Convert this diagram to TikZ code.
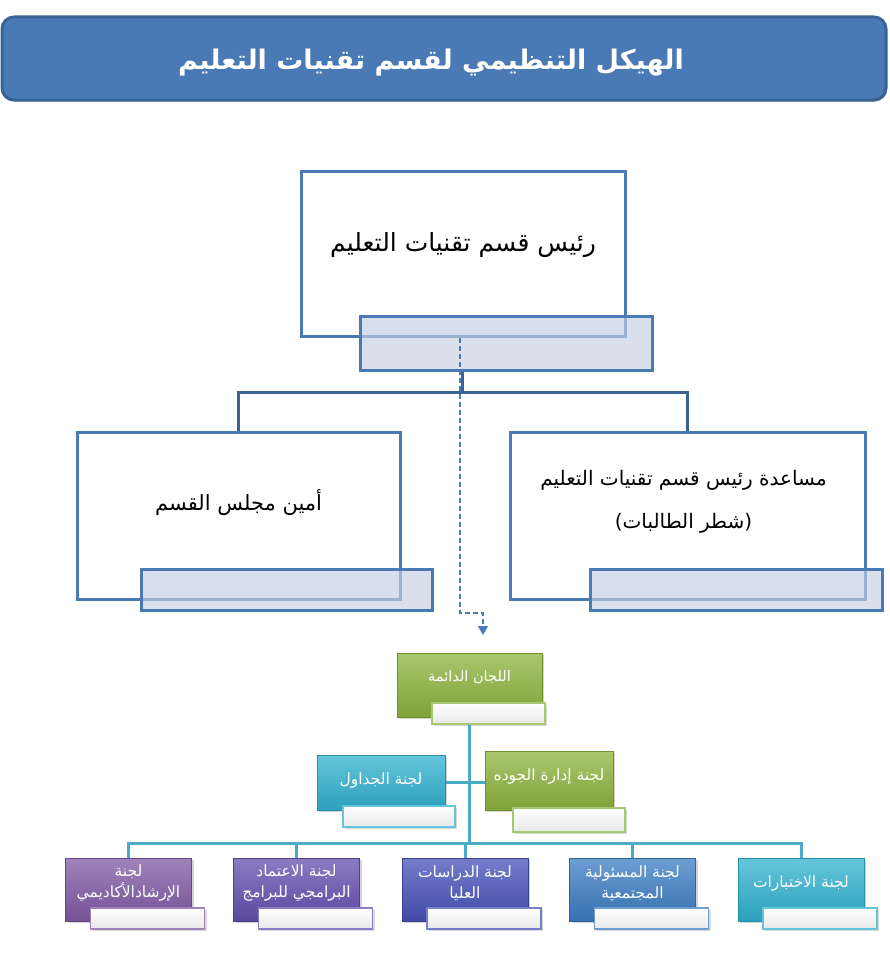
\documentclass[tikz,border=0pt]{standalone}
\usepackage{fontspec}
\usepackage{tikz}
\usetikzlibrary{positioning,shadows,backgrounds,arrows.meta}
\newfontfamily\arabicfont[Script=Arabic]{DejaVu Sans}
\TeXXeTstate=1
\definecolor{deptBlue}{RGB}{74,122,182}
\definecolor{deptBlueDark}{RGB}{58,98,148}
\definecolor{tagGrey}{RGB}{196,207,226}
\definecolor{linkTeal}{RGB}{75,172,198}
\definecolor{commGreen}{RGB}{141,180,62}
\definecolor{commCyan}{RGB}{49,178,208}
\definecolor{commPurple}{RGB}{128,90,165}
\definecolor{commViolet}{RGB}{100,80,175}
\definecolor{commIndigo}{RGB}{72,82,185}
\definecolor{commBlue}{RGB}{60,125,195}
\tikzset{
	titlebox/.style={draw=deptBlueDark, line width=3pt, fill=deptBlue, rounded corners=12pt,
		drop shadow={shadow xshift=1pt, shadow yshift=-2pt, opacity=0.3}},
	titletext/.style={text=white, font=\arabicfont\bfseries\fontsize{27}{32}\selectfont},
	posbox/.style={draw=deptBlue, line width=3pt, fill=white},
	postext/.style={text=black, align=center, font=\arabicfont\fontsize{21}{43}\selectfont},
	postag/.style={draw=deptBlue, line width=3pt, fill=tagGrey, fill opacity=0.65},
	postlink/.style={draw=deptBlueDark, line width=3pt},
	assistlink/.style={draw=deptBlue, line width=1.2pt, dash pattern=on 5pt off 3pt,
		-{Triangle[width=10pt,length=9pt]}},
	commbox/.style={draw=#1!80!black, line width=0.6pt, top color=#1!75!white, bottom color=#1!90!black,
		drop shadow={shadow xshift=2pt, shadow yshift=-2pt, opacity=0.35}},
	rowbox/.style={commbox=#1, minimum width=126, minimum height=63},
	commtext/.style={text=white, align=center, font=\arabicfont\fontsize{15.5}{21}\selectfont},
	commtag/.style={draw=#1!75!white, line width=1.2pt, top color=white, bottom color=black!9,
		drop shadow={shadow xshift=2pt, shadow yshift=-2pt, opacity=0.3}},
	rowtag/.style={commtag=#1, minimum width=114, minimum height=21},
	commlink/.style={draw=linkTeal, line width=3pt}
}

\begin{document}
\begin{tikzpicture}[x=1pt, y=-1pt]
	\useasboundingbox (0,0) rectangle (889,974);

	% title banner
	\node[titlebox, minimum width=884, minimum height=83,
		label={[titletext, xshift=-13pt, yshift=-4pt]center:{\beginR الهيكل التنظيمي لقسم تقنيات التعليم\endR}}] (title) at (444,58.5) {};

	% department posts
	\node[posbox, minimum width=324, minimum height=165,
		label={[postext, font=\arabicfont\fontsize{25}{30}\selectfont, yshift=8pt]center:{\beginR رئيس قسم تقنيات التعليم\endR}}] (chief) at (463,253.5) {};
	\node[postag, minimum width=292, minimum height=54] (chieftag) at (506,343) {};

	\node[posbox, minimum width=323, minimum height=167,
		label={[postext, yshift=13pt]center:{\beginR أمين مجلس القسم\endR}}] (secretary) at (238.5,515.5) {};
	\node[postag, minimum width=291, minimum height=41] (secretarytag) at (286.5,589.5) {};

	\node[posbox, minimum width=355, minimum height=167,
		label={[postext, font=\arabicfont\fontsize{20}{43}\selectfont, xshift=-4pt, yshift=14pt]center:{\beginR مساعدة رئيس قسم تقنيات التعليم\endR\\\beginR (شطر الطالبات)\endR}}] (deputy) at (687.5,515.5) {};
	\node[postag, minimum width=292, minimum height=41] (deputytag) at (736,589.5) {};

	% standing committees
	\node[commbox=commGreen, minimum width=145, minimum height=64,
		label={[commtext, font=\arabicfont\fontsize{14.5}{20}\selectfont, yshift=8pt]center:{\beginR اللجان الدائمة\endR}}] (standing) at (469.5,685) {};
	\node[commtag=commGreen, minimum width=113, minimum height=21] (standingtag) at (488.5,713.5) {};

	\node[commbox=commCyan, minimum width=128, minimum height=55,
		label={[commtext, yshift=2pt]center:{\beginR لجنة الجداول\endR}}] (timetable) at (381,782.5) {};
	\node[commtag=commCyan, minimum width=112, minimum height=21] (timetabletag) at (399,816.5) {};

	\node[commbox=commGreen, minimum width=128, minimum height=59,
		label={[commtext, yshift=4pt]center:{\beginR لجنة  إدارة الجوده\endR}}] (quality) at (549,780.5) {};
	\node[commtag=commGreen, minimum width=112, minimum height=24] (qualitytag) at (569,820) {};

	\node[rowbox=commPurple, label={[commtext, yshift=6.5pt]center:{\beginR لجنة\endR\\\beginR الإرشادالأكاديمي\endR}}] (advising) at (128.5,889.5) {};
	\node[rowtag=commPurple] (advisingtag) at ([xshift=19pt, yshift=-29pt]advising.center) {};

	\node[rowbox=commViolet, label={[commtext, yshift=6.5pt]center:{\beginR لجنة الاعتماد\endR\\\beginR البرامجي للبرامج\endR}}] (accredit) at (296.5,889.5) {};
	\node[rowtag=commViolet] (accredittag) at ([xshift=19pt, yshift=-29pt]accredit.center) {};

	\node[rowbox=commIndigo, label={[commtext, yshift=6.5pt]center:{\beginR لجنة الدراسات\endR\\\beginR العليا\endR}}] (graduate) at (465,889.5) {};
	\node[rowtag=commIndigo] (graduatetag) at ([xshift=19pt, yshift=-29pt]graduate.center) {};

	\node[rowbox=commBlue, label={[commtext, yshift=6.5pt]center:{\beginR لجنة المسئولية\endR\\\beginR المجتمعية\endR}}] (community) at (632.5,889.5) {};
	\node[rowtag=commBlue] (communitytag) at ([xshift=19pt, yshift=-29pt]community.center) {};

	\node[rowbox=commCyan, label={[commtext, yshift=6.5pt]center:{\beginR لجنة الاختبارات\endR}}] (exams) at (801,889.5) {};
	\node[rowtag=commCyan] (examstag) at ([xshift=19pt, yshift=-29pt]exams.center) {};

	% connectors
	\begin{scope}[on background layer]
		\coordinate (hub) at (462,392);
		\draw[postlink] (chieftag.south -| hub) -- (hub);
		\draw[postlink] (secretary.north) |- (hub) -| (deputy.north);

		\coordinate (bus) at (469.5,843);
		\draw[commlink] (standing.south) -- (bus);
		\draw[commlink] (timetable.east) -- (timetable.east -| quality.west);
		\draw[commlink] (advising.north) |- (bus);
		\draw[commlink] (accredit.north) |- (bus);
		\draw[commlink] (graduate.north) |- (bus);
		\draw[commlink] (community.north) |- (bus);
		\draw[commlink] (exams.north) |- (bus);
	\end{scope}

	% link to the committees
	\coordinate (committeesentry) at (483,635);
	\draw[assistlink] ([xshift=-3pt]chief.south) |- ([yshift=22pt]committeesentry) -- (committeesentry);
\end{tikzpicture}
\end{document}
